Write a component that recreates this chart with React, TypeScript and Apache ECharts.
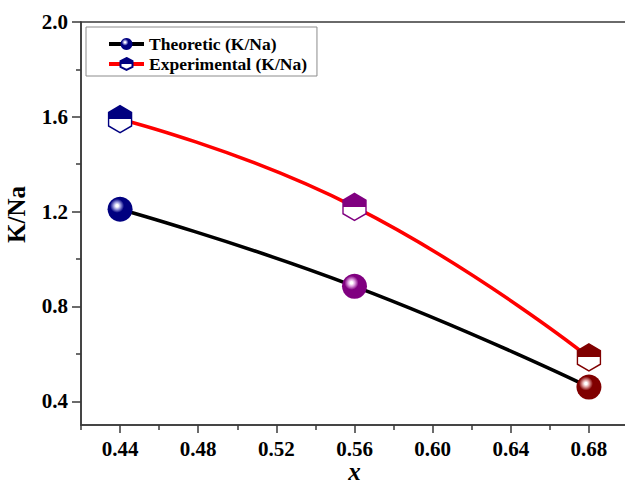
import React, { useEffect, useRef } from 'react';
import * as echarts from 'echarts';

const xValues = [0.44, 0.56, 0.68];
const theoretic = [1.21, 0.885, 0.46];
const experimental = [1.59, 1.22, 0.585];
const xMajorTicks = [0.44, 0.48, 0.52, 0.56, 0.6, 0.64, 0.68];
const xMinorTicks = [0.42, 0.46, 0.5, 0.54, 0.58, 0.62, 0.66, 0.7];
const yMajorTicks = [0.4, 0.8, 1.2, 1.6, 2.0];
const yMinorTicks = [0.6, 1.0, 1.4, 1.8];
const seriesNames = ['Theoretic (K/Na)', 'Experimental (K/Na)'];
const xName = 'x';
const yName = 'K/Na';

const pointColors = ['#000080', '#800080', '#800000'];
const pointLights = ['#a0a0e0', '#e0a0e0', '#e0a0a0'];
const FONT = '"Liberation Serif", "Times New Roman", serif';
const AXIS_COLOR = '#3a3a3a';
const HEX = 'path://M50,0 L93.3,25 L93.3,75 L50,100 L6.7,75 L6.7,25 Z';

function sphere(i: number) {
  return new echarts.graphic.RadialGradient(0.38, 0.36, 0.62, [
    { offset: 0, color: '#ffffff' },
    { offset: 0.08, color: '#ffffff' },
    { offset: 0.22, color: pointLights[i] },
    { offset: 0.45, color: pointColors[i] },
    { offset: 1, color: pointColors[i] },
  ]);
}

function halfHex(i: number) {
  return new echarts.graphic.LinearGradient(0, 0, 0, 1, [
    { offset: 0, color: pointColors[i] },
    { offset: 0.5, color: pointColors[i] },
    { offset: 0.5, color: '#ffffff' },
    { offset: 1, color: '#ffffff' },
  ]);
}

export default function App() {
  const ref = useRef<HTMLDivElement>(null);
  useEffect(() => {
    const chart = echarts.init(ref.current!, null, { renderer: 'svg' });
    const axisLine = { lineStyle: { color: AXIS_COLOR, width: 1.5 } };
    const labelStyle = { fontFamily: FONT, fontWeight: 'bold' as const, fontSize: 21, color: '#000' };
    const option: any = {
      animation: false,
      backgroundColor: '#fff',
      grid: {
        left: 81, right: -3, top: 22, bottom: 59,
        show: true, borderColor: AXIS_COLOR, borderWidth: 1.5,
        outerBoundsMode: 'none',
      },
      legend: {
        orient: 'vertical', left: 86, top: 27,
        itemWidth: 35, itemHeight: 15, itemGap: 2,
        padding: [8, 10, 3, 21],
        borderColor: '#8c8c8c', borderWidth: 1,
        lineStyle: { width: 4 },
        textStyle: { fontFamily: FONT, fontWeight: 'bold', fontSize: 17.5, color: '#000' },
        data: seriesNames,
      },
      xAxis: [
        {
          type: 'value', min: 0.42, max: 0.7, position: 'bottom',
          axisLine,
          axisTick: { customValues: xMajorTicks, length: 8, lineStyle: { color: AXIS_COLOR, width: 1.5 } },
          axisLabel: { ...labelStyle, customValues: xMajorTicks, margin: 13, formatter: (v: number) => v.toFixed(2) },
          splitLine: { show: false },
          name: xName, nameLocation: 'middle', nameGap: 34, nameMoveOverlap: false,
          nameTextStyle: { fontFamily: FONT, fontWeight: 'bold', fontStyle: 'italic', fontSize: 25, color: '#000' },
        },
        {
          type: 'value', min: 0.42, max: 0.7, position: 'bottom',
          axisLine: { show: false },
          axisTick: { customValues: xMinorTicks, length: 5, lineStyle: { color: AXIS_COLOR, width: 1.5 } },
          axisLabel: { show: false },
          splitLine: { show: false },
        },
      ],
      yAxis: [
        {
          type: 'value', min: 0.3, max: 2.0, position: 'left',
          axisLine: { show: true, ...axisLine },
          axisTick: { show: true, customValues: yMajorTicks, length: 9, lineStyle: { color: AXIS_COLOR, width: 1.5 } },
          axisLabel: { ...labelStyle, customValues: yMajorTicks, margin: 13, formatter: (v: number) => v.toFixed(1) },
          splitLine: { show: false },
          name: yName, nameLocation: 'middle', nameGap: 52, nameRotate: 90, nameMoveOverlap: false,
          nameTextStyle: { fontFamily: FONT, fontWeight: 'bold', fontSize: 25, color: '#000', padding: [0, 0, 0, 18] },
        },
        {
          type: 'value', min: 0.3, max: 2.0, position: 'left',
          axisLine: { show: false },
          axisTick: { show: true, customValues: yMinorTicks, length: 5, lineStyle: { color: AXIS_COLOR, width: 1.5 } },
          axisLabel: { show: false },
          splitLine: { show: false },
        },
      ],
      series: [
        {
          name: seriesNames[0], type: 'line', smooth: true,
          symbol: 'circle', symbolSize: 25,
          lineStyle: { color: '#000', width: 3.5 },
          itemStyle: { color: sphere(0) },
          data: xValues.map((x, i) => ({ value: [x, theoretic[i]], itemStyle: { color: sphere(i) } })),
          z: 3,
        },
        {
          name: seriesNames[1], type: 'line', smooth: true,
          symbol: HEX, symbolSize: [23, 27],
          lineStyle: { color: '#ff0000', width: 3.5 },
          itemStyle: { color: halfHex(0), borderColor: pointColors[0], borderWidth: 1.5 },
          data: xValues.map((x, i) => ({
            value: [x, experimental[i]],
            itemStyle: { color: halfHex(i), borderColor: pointColors[i], borderWidth: 1.5 },
          })),
          z: 3,
        },
      ],
    };
    chart.setOption(option);
    return () => chart.dispose();
  }, []);
  return (
    <div
      ref={ref}
      style={{ position: 'fixed', left: 0, top: 0, width: 625, height: 484, background: '#fff' }}
    />
  );
}
